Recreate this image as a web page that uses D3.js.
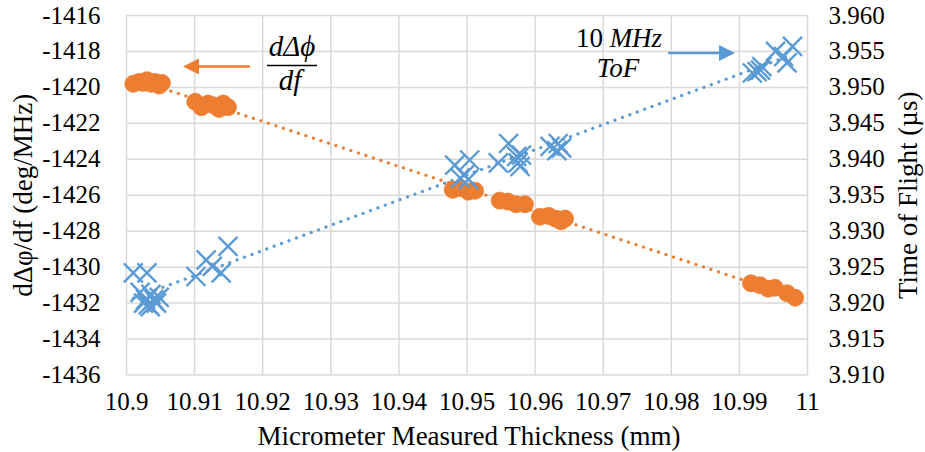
<!DOCTYPE html>
<html><head><meta charset="utf-8"><script src="https://cdn.jsdelivr.net/npm/d3@7"></script></head>
<body style="margin:0">
<svg id="fig" width="925" height="452" font-family="Liberation Serif"></svg>
<script>
// ---- data ----
const xTicks = [10.9, 10.91, 10.92, 10.93, 10.94, 10.95, 10.96, 10.97, 10.98, 10.99, 11];
const xTickLabels = ["10.9", "10.91", "10.92", "10.93", "10.94", "10.95", "10.96", "10.97", "10.98", "10.99", "11"];
const leftTicks = [-1416, -1418, -1420, -1422, -1424, -1426, -1428, -1430, -1432, -1434, -1436];
const leftTickLabels = ["-1416", "-1418", "-1420", "-1422", "-1424", "-1426", "-1428", "-1430", "-1432", "-1434", "-1436"];
const rightTicks = [3.960, 3.955, 3.950, 3.945, 3.940, 3.935, 3.930, 3.925, 3.920, 3.915, 3.910];
const rightTickLabels = ["3.960", "3.955", "3.950", "3.945", "3.940", "3.935", "3.930", "3.925", "3.920", "3.915", "3.910"];

// dΔφ/df (deg/MHz) vs thickness (mm)
const phaseThickness = [10.9010, 10.9018, 10.9025, 10.9030, 10.9036, 10.9042, 10.9048, 10.9052,
  10.9101, 10.9110, 10.9120, 10.9128, 10.9136, 10.9142, 10.9149,
  10.9479, 10.9490, 10.9502, 10.9512,
  10.9548, 10.9560, 10.9572, 10.9585,
  10.9607, 10.9620, 10.9630, 10.9638, 10.9644,
  10.9917, 10.9930, 10.9942, 10.9952, 10.9970, 10.9982];
const phaseSlope = [-1419.8, -1419.7, -1419.75, -1419.6, -1419.8, -1419.7, -1419.9, -1419.75,
  -1420.8, -1421.1, -1420.9, -1421.0, -1421.2, -1420.9, -1421.1,
  -1425.7, -1425.6, -1425.8, -1425.75,
  -1426.3, -1426.35, -1426.5, -1426.5,
  -1427.2, -1427.15, -1427.3, -1427.45, -1427.3,
  -1430.9, -1431.0, -1431.2, -1431.15, -1431.45, -1431.7];

// Time of flight (µs) vs thickness (mm)
const tofThickness = [10.9010, 10.9030, 10.9020, 10.9028, 10.9032, 10.9036, 10.9040, 10.9044, 10.9048, 10.9035, 10.9025,
  10.9102, 10.9117, 10.9126, 10.9139, 10.9149,
  10.9482, 10.9504, 10.9490, 10.9502, 10.9496,
  10.9561, 10.9546, 10.9573, 10.9575, 10.9580, 10.9578,
  10.9622, 10.9634, 10.9632, 10.9639,
  10.9919, 10.9926, 10.9931, 10.9933, 10.9953, 10.9970, 10.9978, 10.9965];
const tofValues = [3.9242, 3.9242, 3.9215, 3.9205, 3.9198, 3.9212, 3.9205, 3.9200, 3.9208, 3.9195, 3.9200,
  3.9237, 3.9260, 3.9251, 3.9242, 3.9279,
  3.9392, 3.9399, 3.9374, 3.9372, 3.9378,
  3.9422, 3.9395, 3.9404, 3.9395, 3.9406, 3.9390,
  3.9418, 3.9422, 3.9412, 3.9416,
  3.9520, 3.9522, 3.9524, 3.9529, 3.9550, 3.9534, 3.9557, 3.9543];

// ---- layout ----
const svg = d3.select("#fig");
const plot = { left: 126.5, right: 807.5, top: 15.5, bottom: 375 };
const orange = "#ED7D31", blue = "#5B9BD5", grid = "#D9D9D9";

const x = d3.scaleLinear().domain([10.9, 11]).range([plot.left, plot.right]);
const yL = d3.scaleLinear().domain([-1436, -1416]).range([plot.bottom, plot.top]);
const yR = d3.scaleLinear().domain([3.910, 3.960]).range([plot.bottom, plot.top]);

// gridlines
svg.append("g").selectAll("line").data(leftTicks).join("line")
  .attr("x1", plot.left).attr("x2", plot.right)
  .attr("y1", d => yL(d)).attr("y2", d => yL(d))
  .attr("stroke", grid).attr("stroke-width", 1.5);
svg.append("g").selectAll("line").data(xTicks).join("line")
  .attr("y1", plot.top).attr("y2", plot.bottom)
  .attr("x1", d => x(d)).attr("x2", d => x(d))
  .attr("stroke", grid).attr("stroke-width", 1.5);

// text helper: serif face set only as a presentation attribute
const lbl = (sel, size) => sel.attr("font-family", "Liberation Serif").attr("font-style", "normal")
  .attr("font-size", size).attr("fill", "#000");

// tick labels drawn from the scales
const fs = 25;
svg.append("g").selectAll("text").data(leftTicks).join("text")
  .attr("x", plot.left - 26).attr("y", d => yL(d) + 8).attr("text-anchor", "end")
  .call(lbl, fs).text((d, i) => leftTickLabels[i]);
svg.append("g").selectAll("text").data(rightTicks).join("text")
  .attr("x", plot.right + 21).attr("y", d => yR(d) + 8).attr("text-anchor", "start")
  .call(lbl, fs).text((d, i) => rightTickLabels[i]);
svg.append("g").selectAll("text").data(xTicks).join("text")
  .attr("x", d => x(d)).attr("y", plot.bottom + 35).attr("text-anchor", "middle")
  .call(lbl, fs).text((d, i) => xTickLabels[i]);

// axis titles
svg.append("text").attr("x", (plot.left + plot.right) / 2 + 2).attr("y", 445).attr("text-anchor", "middle")
  .call(lbl, 27).text("Micrometer Measured Thickness (mm)");
svg.append("text").attr("transform", `translate(32,${(plot.top + plot.bottom) / 2}) rotate(-90)`).attr("text-anchor", "middle")
  .call(lbl, 27).text("dΔφ/df (deg/MHz)");
svg.append("text").attr("transform", `translate(917,${(plot.top + plot.bottom) / 2}) rotate(-90)`).attr("text-anchor", "middle")
  .call(lbl, 27).text("Time of Flight (µs)");

// trendlines (least squares from the data)
function fit(xs, ys) {
  const mx = d3.mean(xs), my = d3.mean(ys);
  let num = 0, den = 0;
  xs.forEach((v, i) => { num += (v - mx) * (ys[i] - my); den += (v - mx) * (v - mx); });
  const b = num / den, a = my - b * mx;
  const [x0, x1] = d3.extent(xs);
  return [[x0, a + b * x0], [x1, a + b * x1]];
}
const trendStyle = (sel, c) => sel.attr("stroke", c).attr("stroke-width", 3.2)
  .attr("stroke-linecap", "round").attr("stroke-dasharray", "0.1,7.8").attr("fill", "none");
const tp = fit(phaseThickness, phaseSlope);
svg.append("path").attr("d", d3.line().x(d => x(d[0])).y(d => yL(d[1]))(tp)).call(trendStyle, orange);
const tt = fit(tofThickness, tofValues);
svg.append("path").attr("d", d3.line().x(d => x(d[0])).y(d => yR(d[1]))(tt)).call(trendStyle, blue);

// markers: orange circles
svg.append("g").selectAll("circle").data(phaseThickness).join("circle")
  .attr("cx", d => x(d)).attr("cy", (d, i) => yL(phaseSlope[i])).attr("r", 8.5)
  .attr("fill", orange).attr("stroke", orange).attr("stroke-width", 0.8);

// markers: blue X
const s = 9.5;
svg.append("g").selectAll("path").data(tofThickness).join("path")
  .attr("d", (d, i) => {
    const cx = x(d), cy = yR(tofValues[i]);
    return `M${cx - s},${cy - s}L${cx + s},${cy + s}M${cx - s},${cy + s}L${cx + s},${cy - s}`;
  })
  .attr("stroke", blue).attr("stroke-width", 2.4).attr("fill", "none");

// annotations
const mathText = (sel, italic, size) => sel.call(lbl, size)
  .attr("font-style", italic ? "italic" : "normal").attr("text-anchor", "middle");
svg.append("line").attr("x1", 250).attr("x2", 196).attr("y1", 66.5).attr("y2", 66.5)
  .attr("stroke", orange).attr("stroke-width", 2.5);
svg.append("path").attr("d", "M183,66.5L199,58.5L199,74.5Z").attr("fill", orange);
svg.append("text").attr("x", 292).attr("y", 56).call(mathText, true, 29).text("dΔϕ");
svg.append("line").attr("x1", 267).attr("x2", 317).attr("y1", 65.5).attr("y2", 65.5)
  .attr("stroke", "#000").attr("stroke-width", 1.3);
svg.append("text").attr("x", 290).attr("y", 90).call(mathText, true, 29).text("df");

const t10 = svg.append("text").attr("x", 619).attr("y", 47).call(mathText, false, 27);
t10.append("tspan").text("10 ");
t10.append("tspan").attr("font-style", "italic").text("MHz");
svg.append("text").attr("x", 618).attr("y", 77).call(mathText, true, 27).text("ToF");
svg.append("line").attr("x1", 668).attr("x2", 722).attr("y1", 53).attr("y2", 53)
  .attr("stroke", blue).attr("stroke-width", 2.5);
svg.append("path").attr("d", "M735,53L719,45L719,61Z").attr("fill", blue);
</script>
</body></html>
